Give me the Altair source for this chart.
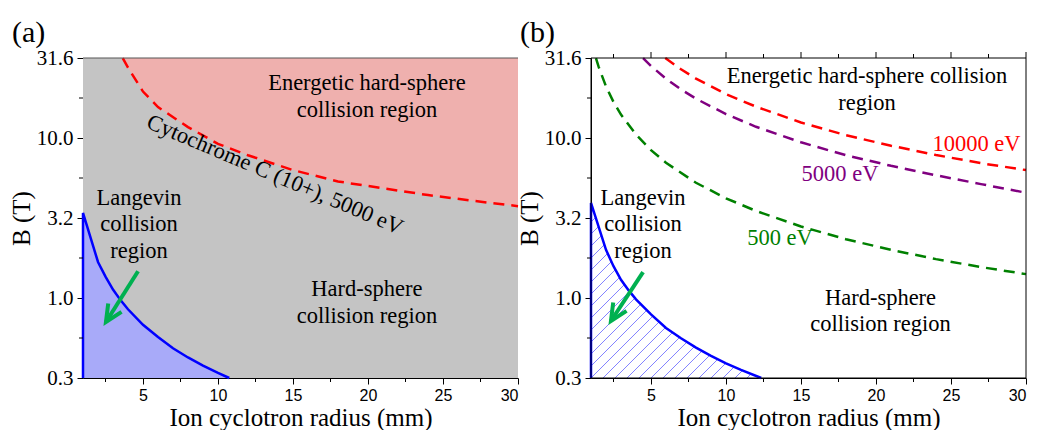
import numpy as np
import pandas as pd
import altair as alt

# ---------------- data ----------------
# panel (a)
a_lang_r = [1.0, 1.0, 2.0, 2.5, 3.0, 3.5, 4.0, 5.0, 6.0, 7.0, 8.0, 9.0, 10.0, 10.75]
a_lang_B = [0.3162, 3.40, 1.68, 1.36, 1.13, 0.97, 0.85, 0.68, 0.57, 0.485, 0.425, 0.378, 0.34, 0.3162]
a_cyt_r = [3.65, 4.0, 5.0, 6.0, 8.0, 10.0, 12.0, 15.0, 18.0, 21.0, 24.0, 27.0, 30.0]
a_cyt_B = [31.6, 27.5, 19.5, 15.6, 11.7, 9.2, 7.8, 6.3, 5.35, 4.85, 4.4, 4.05, 3.75]

# panel (b)
b_lang_r = [1.0, 1.0, 2.0, 2.5, 3.0, 3.5, 4.0, 5.0, 6.0, 7.0, 8.0, 9.0, 10.0, 11.0, 12.35]
b_lang_B = [0.3162, 3.93, 2.00, 1.58, 1.30, 1.12, 0.98, 0.79, 0.65, 0.56, 0.49, 0.435, 0.39, 0.355, 0.3162]
b_500_r = [1.33, 1.5, 2.0, 2.5, 3.0, 4.0, 5.0, 6.0, 8.0, 10.0, 12.0, 15.0, 18.0, 21.0, 24.0, 27.0, 30.0]
b_500_B = [31.6, 28.0, 21.0, 16.8, 14.0, 10.5, 8.4, 7.0, 5.25, 4.2, 3.5, 2.8, 2.33, 2.0, 1.75, 1.56, 1.41]
b_5000_r = [4.47, 5.0, 6.0, 7.0, 8.0, 10.0, 12.0, 15.0, 18.0, 21.0, 24.0, 27.0, 30.0]
b_5000_B = [31.6, 28.2, 23.5, 20.1, 17.6, 14.1, 11.75, 9.4, 7.8, 6.7, 5.85, 5.15, 4.55]
b_10000_r = [5.95, 7.0, 8.0, 10.0, 12.0, 15.0, 18.0, 21.0, 24.0, 27.0, 30.0]
b_10000_B = [31.6, 26.9, 23.5, 18.8, 15.7, 12.5, 10.4, 8.95, 7.83, 6.96, 6.3]

# axis ticks
x_major = [5, 10, 15, 20, 25, 30]
x_minor = [2.5, 7.5, 12.5, 17.5, 22.5, 27.5]
y_major = [10 ** -0.5, 1.0, 10 ** 0.5, 10.0, 10 ** 1.5]
y_minor = [10 ** -0.25, 10 ** 0.25, 10 ** 0.75, 10 ** 1.25]

# ---------------- style ----------------
W, H = 435, 320
XD = [1, 30]
YD = [10 ** -0.5, 10 ** 1.5]
SERIF = "Liberation Serif"
SANS = "Liberation Sans"
GRAY = "#c4c4c4"
PINK = "#efb0ae"
BLUEFILL = "#a8aaf9"
BLUE = "#0000ff"
HATCH = "#5c5cff"
GREEN_ARROW = "#00b050"
FS = 22.5

xscale = alt.Scale(domain=XD, nice=False, zero=False)
yscale = alt.Scale(type="log", domain=YD, nice=False)

XAXIS = alt.Axis(values=x_major, format="d", title="Ion cyclotron radius (mm)", grid=False,
                 labelFont=SANS, labelFontSize=16, labelColor="black", tickSize=6,
                 tickColor="black", domainColor="black", labelPadding=3,
                 titleFont=SERIF, titleFontSize=25, titleFontWeight="normal",
                 titleColor="black", titlePadding=2)
YAXIS = alt.Axis(values=y_major, format=".1f", title="B (T)", grid=False,
                 labelFont=SERIF, labelFontSize=21, labelColor="black", tickSize=6,
                 tickColor="black", domainColor="black", labelPadding=4,
                 titleFont=SERIF, titleFontSize=25, titleFontWeight="normal",
                 titleColor="black", titlePadding=2)


def X(f):
    return alt.X(f, scale=xscale, axis=XAXIS)


def Y(f):
    return alt.Y(f, scale=yscale, axis=YAXIS)


def curve_df(r, B):
    return pd.DataFrame({"r": r, "B": B, "i": list(range(len(r)))})


def box(fill=None, stroke=None):
    kw = {}
    if fill is not None:
        kw["color"] = fill
    else:
        kw["fillOpacity"] = 0
        kw["stroke"] = stroke
        kw["strokeWidth"] = 1
    return alt.Chart(pd.DataFrame({"a": [0]})).mark_rect(**kw).encode(
        x=alt.value(0), x2=alt.value(W), y=alt.value(0), y2=alt.value(H))


def label(r, B, text, size=FS, color="black", angle=0, lh=27):
    # (r, B) is the centre of the first line
    return alt.Chart(pd.DataFrame({"r": [r], "B": [B], "t": [text]})).mark_text(
        font=SERIF, fontSize=size, color=color, angle=angle, lineBreak="\n",
        lineHeight=lh, align="center", baseline="middle").encode(
        x=X("r:Q"), y=Y("B:Q"), text="t:N")


def panel_tag(text):
    return alt.Chart(pd.DataFrame({"t": [text]})).mark_text(
        font=SERIF, fontSize=30, color="black", align="left", baseline="alphabetic").encode(
        x=alt.value(-71), y=alt.value(-16), text="t:N")


def arrow(r0, B0, r1, B1):
    shaft = alt.Chart(pd.DataFrame({"r": [r0], "B": [B0], "r2": [r1], "B2": [B1]})).mark_rule(
        color=GREEN_ARROW, strokeWidth=4).encode(
        x=X("r:Q"), y=Y("B:Q"), x2="r2:Q", y2="B2:Q")
    head = alt.Chart(pd.DataFrame({"r": [r1], "B": [B1]})).mark_point(
        shape="M-0.42,0.9L0,0L0.42,0.9", size=1400, filled=False, strokeWidth=4,
        color=GREEN_ARROW, angle=212, opacity=1, strokeJoin="miter").encode(
        x=X("r:Q"), y=Y("B:Q"))
    return [shaft, head]


def minor_ticks(top=False):
    out = [
        alt.Chart(pd.DataFrame({"v": y_minor})).mark_rule(color="black").encode(
            y=Y("v:Q"), x=alt.value(-4), x2=alt.value(0)),
        alt.Chart(pd.DataFrame({"v": x_minor})).mark_rule(color="black").encode(
            x=X("v:Q"), y=alt.value(H), y2=alt.value(H + 4)),
    ]
    if top:
        out += [
            alt.Chart(pd.DataFrame({"v": x_minor})).mark_rule(color="black").encode(
                x=X("v:Q"), y=alt.value(-4), y2=alt.value(0)),
            alt.Chart(pd.DataFrame({"v": x_major})).mark_rule(color="black").encode(
                x=X("v:Q"), y=alt.value(-6), y2=alt.value(0)),
        ]
    return out


def hatch(r_pts, B_pts, step=12.0):
    """diagonal hatch segments under a boundary curve (pixel-space 45 deg lines)"""
    sx = W / (XD[1] - XD[0])
    sy = H / (np.log10(YD[1]) - np.log10(YD[0]))
    rp = np.array(r_pts[1:], float)
    Bp = np.array(B_pts[1:], float)
    px = (rp - XD[0]) * sx
    py = (np.log10(Bp) - np.log10(YD[0])) * sy
    gx = np.linspace(px[0], px[-1], 4000)
    gy = np.interp(gx, px, py)
    rows = []
    k0 = int(np.floor(-py[0] / step)) + 1
    k1 = int(np.ceil(px[-1] / step))
    for k in range(k0, k1):
        c = k * step
        x0, y0 = max(0.0, c), max(0.0, -c)
        f = gx - c - gy
        idx = np.where(f >= 0)[0]
        if len(idx) == 0 or idx[0] == 0:
            continue
        j = idx[0]
        t = -f[j - 1] / (f[j] - f[j - 1])
        x1 = gx[j - 1] + t * (gx[j] - gx[j - 1])
        y1 = x1 - c
        if x1 <= x0:
            continue
        rows.append({
            "r": XD[0] + x0 / sx, "B": 10 ** (y0 / sy + np.log10(YD[0])),
            "r2": XD[0] + x1 / sx, "B2": 10 ** (y1 / sy + np.log10(YD[0])),
        })
    return pd.DataFrame(rows)


# ---------------- panel (a) ----------------
da_lang = curve_df(a_lang_r, a_lang_B)
da_cyt = curve_df(a_cyt_r, a_cyt_B)

a_layers = [
    box(fill=GRAY),
    alt.Chart(da_cyt).mark_area(color=PINK).encode(
        x=X("r:Q"), y=Y("B:Q"), y2=alt.Y2(datum=YD[1])),
    alt.Chart(da_lang.iloc[1:]).mark_area(color=BLUEFILL).encode(
        x=X("r:Q"), y=Y("B:Q"), y2=alt.Y2(datum=YD[0])),
    alt.Chart(da_cyt).mark_line(color="#ff0000", strokeWidth=2.5, strokeDash=[11, 7]).encode(
        x=X("r:Q"), y=Y("B:Q"), order="i:Q"),
    alt.Chart(da_lang).mark_line(color=BLUE, strokeWidth=2.5).encode(
        x=X("r:Q"), y=Y("B:Q"), order="i:Q"),
    alt.Chart(pd.DataFrame({"a": [0]})).mark_rule(color="#555555").encode(
        x=alt.value(0), x2=alt.value(W), y=alt.value(0)),
    label(19.93, 22.1, "Energetic hard-sphere\ncollision region"),
    label(4.73, 4.22, "Langevin\ncollision\nregion", lh=26.5),
    label(19.93, 1.14, "Hard-sphere\ncollision region"),
    label(13.8, 5.9, "Cytochrome C (10+), 5000 eV", angle=23),
    panel_tag("(a)"),
] + arrow(4.67, 1.47, 2.53, 0.708) + minor_ticks()

pa = alt.layer(*a_layers).properties(width=W, height=H)

# ---------------- panel (b) ----------------
db_lang = curve_df(b_lang_r, b_lang_B)
dh = hatch(b_lang_r, b_lang_B)

b_layers = [
    alt.Chart(dh).mark_rule(color=HATCH, strokeWidth=0.9, opacity=0.85).encode(
        x=X("r:Q"), y=Y("B:Q"), x2="r2:Q", y2="B2:Q"),
    alt.Chart(curve_df(b_500_r, b_500_B)).mark_line(
        color="#008000", strokeWidth=2.5, strokeDash=[11, 7]).encode(
        x=X("r:Q"), y=Y("B:Q"), order="i:Q"),
    alt.Chart(curve_df(b_5000_r, b_5000_B)).mark_line(
        color="#800080", strokeWidth=2.5, strokeDash=[11, 7]).encode(
        x=X("r:Q"), y=Y("B:Q"), order="i:Q"),
    alt.Chart(curve_df(b_10000_r, b_10000_B)).mark_line(
        color="#ff0000", strokeWidth=2.5, strokeDash=[11, 7]).encode(
        x=X("r:Q"), y=Y("B:Q"), order="i:Q"),
    alt.Chart(db_lang).mark_line(color=BLUE, strokeWidth=2.5).encode(
        x=X("r:Q"), y=Y("B:Q"), order="i:Q"),
    box(stroke="black"),
    label(19.4, 24.4, "Energetic hard-sphere collision\nregion"),
    label(26.7, 9.18, "10000 eV", color="#ff0000"),
    label(17.6, 5.96, "5000 eV", color="#800080"),
    label(13.6, 2.37, "500 eV", color="#008000"),
    label(4.47, 4.22, "Langevin\ncollision\nregion", lh=26.5),
    label(20.3, 1.0, "Hard-sphere\ncollision region", lh=26),
    panel_tag("(b)"),
] + arrow(4.47, 1.45, 2.33, 0.718) + minor_ticks(top=True)

pb = alt.layer(*b_layers).properties(width=W, height=H)

chart = alt.hconcat(pa, pb, spacing=73, bounds="flush").properties(
    padding={"left": 9, "top": 18, "right": 0, "bottom": 0}
).configure_view(strokeWidth=0)

chart.save("out.html", embed_options={"renderer": "svg", "actions": False})
